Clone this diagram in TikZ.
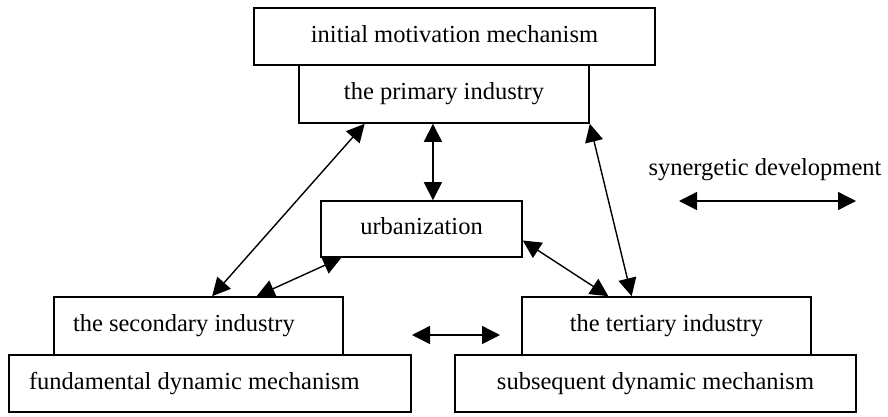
\documentclass[tikz,border=0pt]{standalone}
\usepackage{fontspec}
\setmainfont{Liberation Serif}
\usetikzlibrary{arrows.meta,calc}
\begin{document}
\begin{tikzpicture}[x=1pt,y=-1pt,
  lbl/.style={font=\fontsize{24.5}{29}\selectfont},
  box/.style={draw=black,line width=1.6pt,inner sep=0pt,lbl,text height=17pt,text depth=6pt},
  conn/.style={line width=1.4pt,{Triangle[length=18pt,width=18pt]}-{Triangle[length=18pt,width=18pt]}}]
\useasboundingbox (0,0) rectangle (888,416);
\fill[white] (0,0) rectangle (888,416);

\node[box,minimum width=401pt,minimum height=57pt] (init) at (454.5,36.5) {initial motivation mechanism};
\node[box,minimum width=290pt,minimum height=58pt] (prim) at (444,94) {the primary industry};
\node[box,minimum width=201pt,minimum height=56pt] (urb) at (421.5,229) {urbanization};
\node[box,minimum width=289pt,minimum height=58pt] (sec) at (198.5,326) {\makebox[251pt][l]{the secondary industry}};
\node[box,minimum width=402pt,minimum height=57pt] (fund) at (210,383.5) {\makebox[362pt][l]{fundamental dynamic mechanism}};
\node[box,minimum width=289pt,minimum height=58pt] (ter) at (666.5,326) {the tertiary industry};
\node[box,minimum width=401pt,minimum height=57pt] (sub) at (655.5,383.5) {subsequent dynamic mechanism};

\draw[conn] ($(prim.south west)!0.228!(prim.south east)$) -- ($(sec.north west)!0.547!(sec.north east)$);
\draw[conn] ($(urb.south west)!0.104!(urb.south east)$) -- ($(sec.north west)!0.70!(sec.north east)$);
\coordinate (pu) at ($(prim.south west)!0.462!(prim.south east)$);
\draw[conn] (pu) -- (pu |- urb.north);
\draw[conn] (prim.south east) -- ($(ter.north west)!0.38!(ter.north east)$);
\draw[conn] ($(urb.north east)!0.7!(urb.south east)$) -- ($(ter.north west)!0.3!(ter.north east)$);

\coordinate (mL) at (412,335);
\coordinate (mR) at (500,335);
\draw[conn] (mL) -- (mR);

\node[lbl,anchor=base] (leg) at (765,175) {synergetic development};
\coordinate (lgL) at (679,201);
\coordinate (lgR) at (856,201);
\draw[conn] (lgL) -- (lgR);
\end{tikzpicture}
\end{document}
